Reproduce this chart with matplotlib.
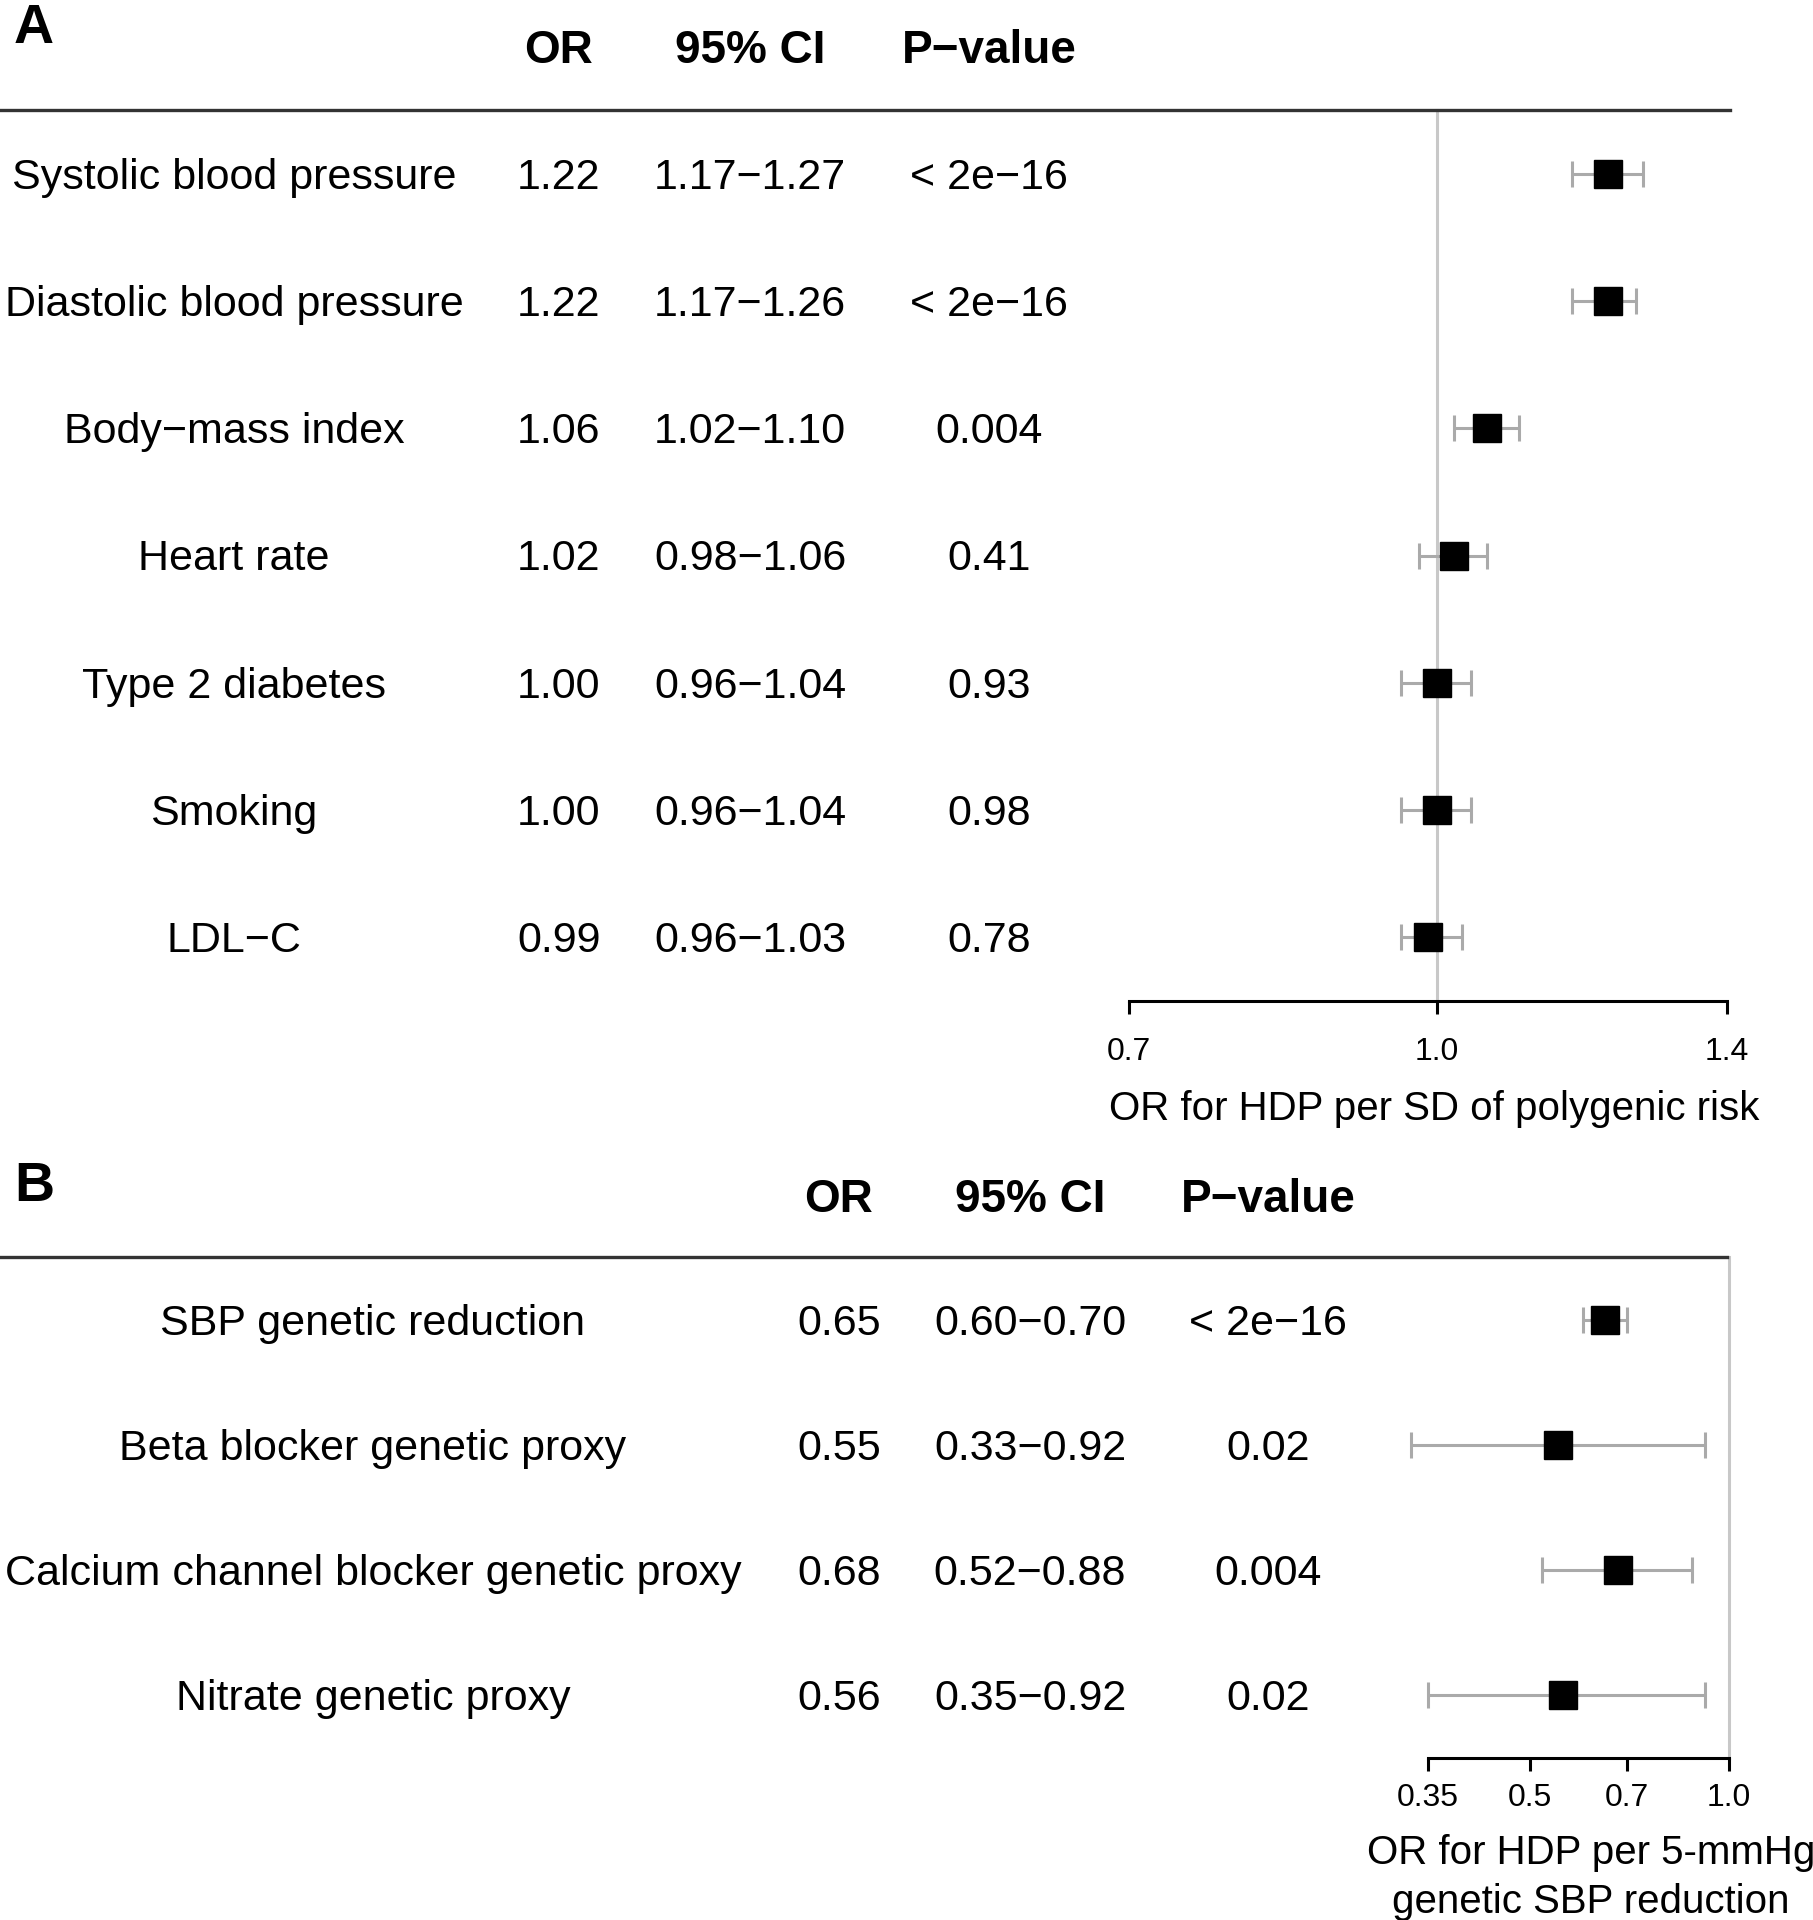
import matplotlib
matplotlib.use("Agg")
import matplotlib.pyplot as plt
import numpy as np
from matplotlib.ticker import NullLocator, FixedLocator, FixedFormatter
from matplotlib.transforms import blended_transform_factory, offset_copy

plt.rcParams["font.family"] = ["Liberation Sans", "DejaVu Sans"]

# Panel A: polygenic risk scores
a_labels = ["Systolic blood pressure", "Diastolic blood pressure", "Body\u2212mass index",
            "Heart rate", "Type 2 diabetes", "Smoking", "LDL\u2212C"]
a_or = [1.22, 1.22, 1.06, 1.02, 1.00, 1.00, 0.99]
a_lo = [1.17, 1.17, 1.02, 0.98, 0.96, 0.96, 0.96]
a_hi = [1.27, 1.26, 1.10, 1.06, 1.04, 1.04, 1.03]
a_p = ["< 2e\u221216", "< 2e\u221216", "0.004", "0.41", "0.93", "0.98", "0.78"]
a_ticks = [0.7, 1.0, 1.4]
a_ticklabels = ["0.7", "1.0", "1.4"]

# Panel B: genetic SBP reduction / drug proxies
b_labels = ["SBP genetic reduction", "Beta blocker genetic proxy",
            "Calcium channel blocker genetic proxy", "Nitrate genetic proxy"]
b_or = [0.65, 0.55, 0.68, 0.56]
b_lo = [0.60, 0.33, 0.52, 0.35]
b_hi = [0.70, 0.92, 0.88, 0.92]
b_p = ["< 2e\u221216", "0.02", "0.004", "0.02"]
b_ticks = [0.35, 0.5, 0.7, 1.0]
b_ticklabels = ["0.35", "0.5", "0.7", "1.0"]

W, H = 1813, 1920
fig = plt.figure(figsize=(W / 100, H / 100), dpi=100)

BODY = 31
HEAD = 33
TICK = 23
XLAB = 29


def px_box(left, right, top, bottom):
    """Convert pixel box (from top-left) to figure fraction rect."""
    return [left / W, 1 - bottom / H, (right - left) / W, (bottom - top) / H]


def forest_panel(rect, labels, ors, lo, hi, pvals, ticks, ticklabels,
                 col_x, header_y, line_end, tick_pad):
    ax = fig.add_axes(rect)
    n = len(labels)
    y = np.arange(n)

    ax.set_xscale("log")
    ax.set_xlim(ticks[0], ticks[-1])
    ax.set_ylim(n - 0.5, -0.5)

    ax.axvline(1.0, color="#c8c8c8", lw=2.2, zorder=0, clip_on=False)

    ors = np.array(ors)
    err = np.vstack([ors - np.array(lo), np.array(hi) - ors])
    ax.errorbar(ors, y, xerr=err, fmt="none", ecolor="#aaaaaa", elinewidth=2.2,
                capsize=9.5, capthick=2.2, clip_on=False, zorder=2)
    ax.plot(ors, y, "s", color="black", ms=20.5, mew=1, zorder=3, clip_on=False)

    for side in ["left", "top", "right"]:
        ax.spines[side].set_visible(False)
    ax.spines["bottom"].set_linewidth(2.2)
    ax.set_yticks([])
    ax.xaxis.set_major_locator(FixedLocator(ticks))
    ax.xaxis.set_major_formatter(FixedFormatter(ticklabels))
    ax.xaxis.set_minor_locator(NullLocator())
    ax.tick_params(axis="x", length=9, width=2.2, labelsize=TICK, pad=tick_pad)

    tr = blended_transform_factory(fig.transFigure, ax.transData)
    # header rule across the whole table
    ax.plot([0, line_end / W], [-0.5, -0.5], transform=tr, color="#333333",
            lw=2.4, clip_on=False)

    # text sits a touch lower than the marker centre
    ttr = offset_copy(tr, fig=fig, y=-4, units="dots")
    lab_x, or_x, ci_x, p_x = [c / W for c in col_x]
    for i in range(n):
        ax.text(lab_x, y[i], labels[i], transform=ttr, ha="center", va="center", fontsize=BODY)
        ax.text(or_x, y[i], f"{ors[i]:.2f}", transform=ttr, ha="center", va="center", fontsize=BODY)
        ax.text(ci_x, y[i], f"{lo[i]:.2f}\u2212{hi[i]:.2f}", transform=ttr,
                ha="center", va="center", fontsize=BODY)
        ax.text(p_x, y[i], pvals[i], transform=ttr, ha="center", va="center", fontsize=BODY)

    hy = 1 - header_y / H
    for x, t in zip([or_x, ci_x, p_x], ["OR", "95% CI", "P\u2212value"]):
        fig.text(x, hy, t, ha="center", va="center", fontsize=HEAD, fontweight="bold")
    return ax


ax_a = forest_panel(px_box(1129, 1727, 110, 1001), a_labels, a_or, a_lo, a_hi, a_p,
                    a_ticks, a_ticklabels, [234, 559, 750, 989], 51, 1730, 17)
fig.text(1434 / W, 1 - 1109 / H, "OR for HDP per SD of polygenic risk",
         ha="center", va="center", fontsize=XLAB)
fig.text(34 / W, 1 - 29 / H, "A", ha="center", va="center", fontsize=40, fontweight="bold")

ax_b = forest_panel(px_box(1428, 1729, 1257, 1758), b_labels, b_or, b_lo, b_hi, b_p,
                    b_ticks, b_ticklabels, [373, 839, 1030, 1268], 1200, 1727, 9)
fig.text(1591 / W, 1 - 1853 / H, "OR for HDP per 5-mmHg", ha="center", va="center", fontsize=XLAB)
fig.text(1591 / W, 1 - 1902 / H, "genetic SBP reduction", ha="center", va="center", fontsize=XLAB)
fig.text(34 / W, 1 - 1187 / H, "B", ha="center", va="center", fontsize=40, fontweight="bold")

fig.savefig("out.png", dpi=100)
